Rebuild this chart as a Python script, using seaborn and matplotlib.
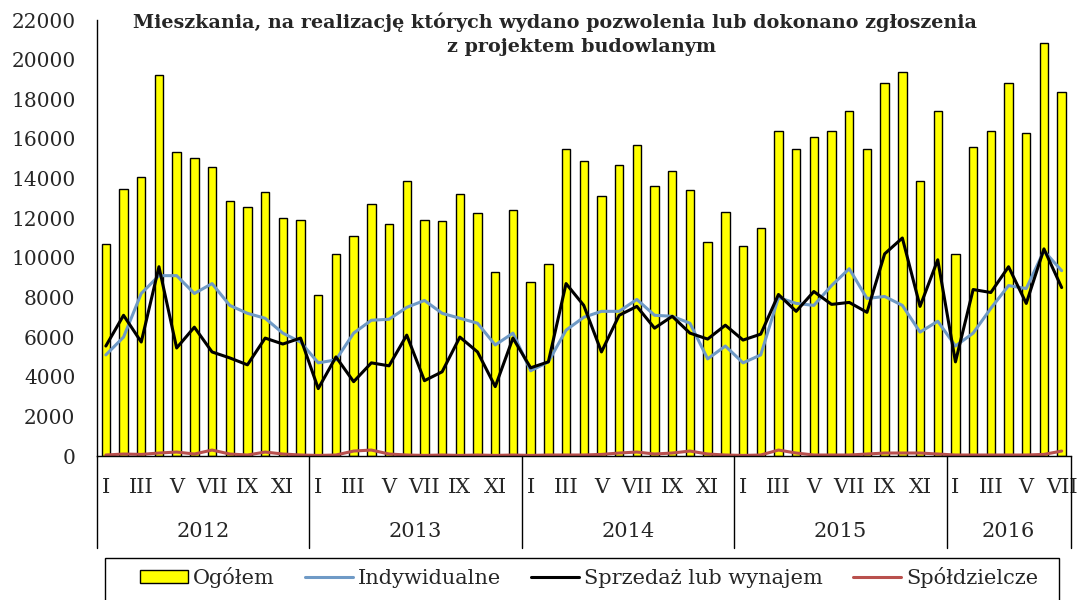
import numpy as np
import pandas as pd
import matplotlib
matplotlib.use("Agg")
import matplotlib.pyplot as plt
import seaborn as sns
from matplotlib.patches import Patch, Rectangle
from matplotlib.lines import Line2D
import matplotlib.transforms as mtransforms

# ---- data ----
years = ["2012", "2013", "2014", "2015", "2016"]
months_per_year = [12, 12, 12, 12, 7]
month_names = ["I", "II", "III", "IV", "V", "VI", "VII", "VIII", "IX", "X", "XI", "XII"]

ogolem = [10700, 13450, 14100, 19250, 15350, 15050, 14600, 12850, 12550, 13300, 12000, 11900,
          8100, 10200, 11100, 12700, 11700, 13900, 11900, 11850, 13200, 12250, 9300, 12400,
          8800, 9700, 15500, 14900, 13100, 14700, 15700, 13600, 14400, 13400, 10800, 12300,
          10600, 11500, 16400, 15500, 16100, 16400, 17400, 15500, 18800, 19400, 13900, 17400,
          10200, 15600, 16400, 18800, 16300, 20850, 18350]

indywidualne = [5100, 6000, 8200, 9100, 9100, 8200, 8700, 7600, 7200, 6950, 6200, 5750,
                4700, 4850, 6200, 6850, 6900, 7500, 7850, 7200, 6950, 6700, 5600, 6200,
                4300, 4750, 6350, 7000, 7300, 7300, 7900, 7100, 7050, 6700, 4900, 5550,
                4700, 5100, 8000, 7700, 7600, 8600, 9450, 7950, 8050, 7600, 6250, 6800,
                5550, 6200, 7450, 8600, 8450, 10350, 9350]

sprzedaz = [5550, 7100, 5750, 9550, 5450, 6500, 5250, 4950, 4600, 5950, 5650, 5950,
            3400, 5000, 3750, 4700, 4550, 6100, 3800, 4250, 6000, 5250, 3500, 5950,
            4450, 4750, 8700, 7600, 5250, 7100, 7550, 6450, 7050, 6200, 5900, 6600,
            5850, 6150, 8150, 7300, 8300, 7650, 7750, 7250, 10200, 11000, 7550, 9900,
            4750, 8400, 8250, 9550, 7700, 10450, 8500]

spoldzielcze = [50, 100, 80, 150, 200, 100, 300, 100, 50, 200, 100, 50,
                30, 50, 250, 300, 100, 50, 30, 50, 30, 50, 30, 50,
                30, 50, 50, 50, 80, 150, 200, 100, 150, 250, 100, 50,
                30, 50, 300, 150, 50, 50, 50, 100, 150, 150, 150, 100,
                50, 50, 50, 50, 50, 80, 250]

series_names = ["Indywidualne", "Sprzedaż lub wynajem", "Spółdzielcze"]
series_colors = ["#6F9AC6", "#000000", "#B9504D"]

title_line1 = "Mieszkania, na realizację których wydano pozwolenia lub dokonano zgłoszenia"
title_line2 = "z projektem budowlanym"

# ---- build frames ----
n_total = sum(months_per_year)
idx = np.arange(n_total)
bars_df = pd.DataFrame({"pos": idx, "val": ogolem})
lines_df = pd.concat([
    pd.DataFrame({"pos": idx, "val": vals, "seria": name})
    for name, vals in zip(series_names, [indywidualne, sprzedaz, spoldzielcze])
])

# ---- style ----
sns.set_theme(style="white")
plt.rcParams["font.family"] = ["DejaVu Serif", "Liberation Serif"]

W, H = 1083, 600
fig = plt.figure(figsize=(10.83, 6.0), dpi=100)
ax = fig.add_axes([97 / W, 1 - 456 / H, 973.5 / W, 436 / H])

sns.barplot(data=bars_df, x="pos", y="val", native_scale=True, color="#FFFF00",
            edgecolor="black", linewidth=1.0, width=0.47, saturation=1, ax=ax)
sns.lineplot(data=lines_df, x="pos", y="val", hue="seria", hue_order=series_names,
             palette=series_colors, linewidth=2.2, legend=False, ax=ax)

ax.set_xlim(-0.5, n_total - 0.5)
ax.set_ylim(0, 22000)
ax.set_yticks(np.arange(0, 22001, 2000))
ax.set_yticklabels([str(v) for v in range(0, 22001, 2000)], fontsize=14.5)
ax.tick_params(axis="y", direction="out", length=5.5, width=1, color="black", pad=10)
ax.set_xlabel("")
ax.set_ylabel("")

# month tick labels (odd months)
tick_pos, tick_lab = [], []
start = 0
for y, n in zip(years, months_per_year):
    for i in range(0, n, 2):
        tick_pos.append(start + i)
        tick_lab.append(month_names[i])
    start += n
ax.set_xticks(tick_pos)
ax.set_xticklabels(tick_lab, fontsize=15)
ax.tick_params(axis="x", length=0, pad=16)

for s in ["top", "right"]:
    ax.spines[s].set_visible(False)
for s in ["left", "bottom"]:
    ax.spines[s].set_color("black")
    ax.spines[s].set_linewidth(1.0)

# year separators and labels
trans = mtransforms.blended_transform_factory(ax.transData, ax.transAxes)
bounds = np.concatenate([[0], np.cumsum(months_per_year)]) - 0.5
for b in bounds:
    ax.plot([b, b], [0, -0.211], transform=trans, color="black", lw=1.0, clip_on=False)
for y, a, b in zip(years, bounds[:-1], bounds[1:]):
    ax.text((a + b) / 2, -0.1743, y, transform=trans, ha="center", va="center", fontsize=15)

# title inside plot area
fig.text(555 / W, 1 - 22 / H, title_line1, ha="center", va="center",
         fontsize=13.8, fontweight="bold")
fig.text(582 / W, 1 - 47 / H, title_line2, ha="center", va="center",
         fontsize=13.8, fontweight="bold")

# legend (frame drawn separately so it can extend past the bottom edge)
handles = [Patch(facecolor="#FFFF00", edgecolor="black", linewidth=1.0, label="Ogółem")]
for name, c in zip(series_names, series_colors):
    handles.append(Line2D([0], [0], color=c, lw=2.2, label=name))
leg = fig.legend(handles=handles, loc="upper left",
                 bbox_to_anchor=(140 / W, 0.0, (1038 - 140) / W, 1 - 567 / H),
                 mode="expand", ncol=4, fontsize=15, frameon=False,
                 handlelength=2.3, handleheight=0.6, handletextpad=0.25,
                 borderpad=0, borderaxespad=0)
fig.patches.append(Rectangle((105 / W, 1 - 606 / H), 954 / W, 48 / H,
                             transform=fig.transFigure, fill=False,
                             edgecolor="black", linewidth=1.0))

fig.savefig("out.png", dpi=100, facecolor="white")
